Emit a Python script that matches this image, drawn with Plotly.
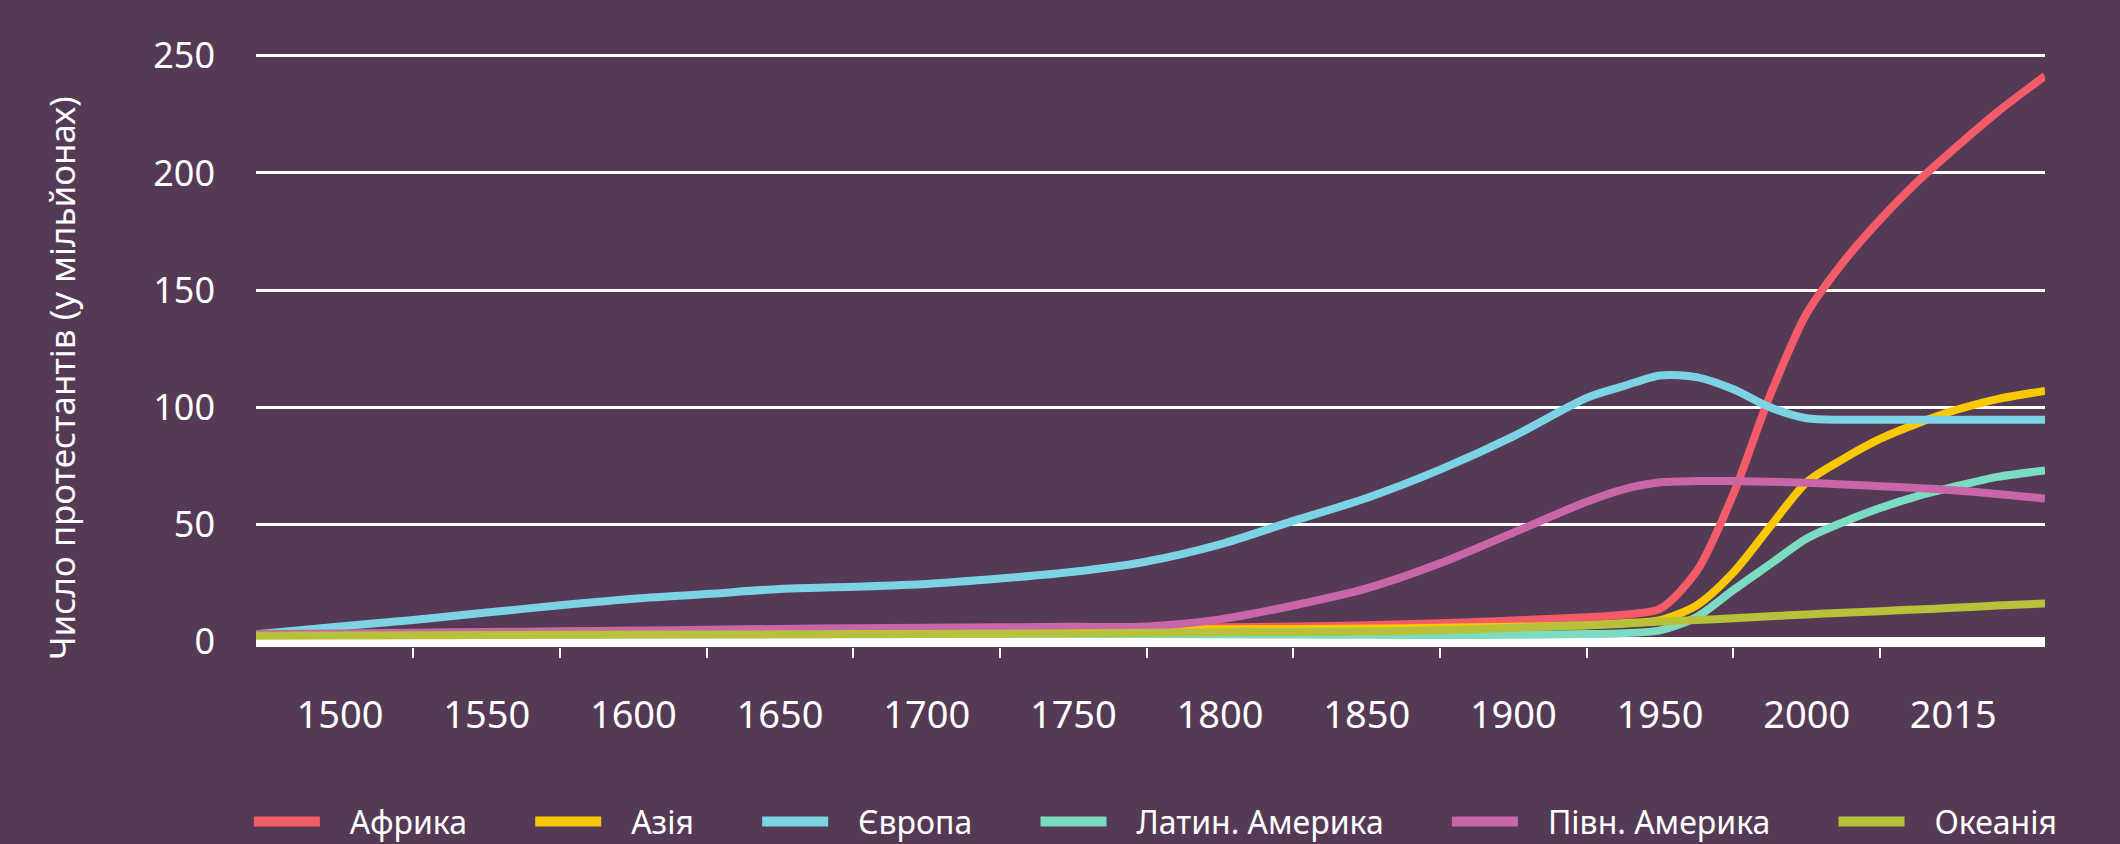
import plotly.graph_objects as go

# Tick labels (equally spaced categories on the x axis)
YEARS = ['1500', '1550', '1600', '1650', '1700', '1750', '1800',
         '1850', '1900', '1950', '2000', '2015']

# Sample positions along the x axis, in label-index units (0 = 1500, 11 = 2015)
X_POS = [-0.573, 0, 0.5, 1, 1.5, 2, 2.5, 3, 3.5, 4, 4.5, 5, 5.5, 6, 6.5, 7,
         7.5, 8, 8.5, 8.75, 9, 9.25, 9.5, 9.75, 10, 10.25, 10.5, 10.75, 11,
         11.3, 11.625]

# Protestants, millions
africa = [3.0, 3.2, 3.4, 3.6, 3.8, 4.0, 4.3, 4.6, 4.9, 5.1, 5.4, 5.7, 5.9,
          6.1, 6.4, 7.0, 7.8, 9.0, 10.4, 11.5, 14.0, 30.0, 63.0, 105.0,
          140.0, 162.0, 180.0, 196.0, 210.0, 226.0, 241.4]
asia = [2.9, 3.1, 3.3, 3.5, 3.7, 3.9, 4.2, 4.5, 4.7, 4.9, 5.0, 5.1, 5.2,
        5.3, 5.4, 5.6, 5.9, 6.3, 7.0, 7.8, 9.2, 15.5, 29.5, 49.0, 68.0,
        78.0, 86.5, 93.0, 98.5, 103.5, 107.0]
europe = [3.1, 6.5, 9.2, 12.4, 15.5, 18.3, 20.3, 22.5, 23.4, 24.6, 26.9,
          29.8, 34.2, 41.5, 51.5, 61.3, 73.4, 87.6, 104.0, 109.0, 113.6,
          112.9, 107.7, 100.0, 95.3, 94.7, 94.7, 94.7, 94.7, 94.7, 94.7]
latin_america = [2.8, 2.9, 2.9, 3.0, 3.0, 3.0, 3.1, 3.1, 3.1, 3.2, 3.2, 3.2,
                 3.2, 3.1, 3.0, 2.9, 2.8, 2.9, 3.2, 3.6, 4.8, 10.5, 22.0,
                 33.0, 44.0, 51.0, 57.0, 62.0, 66.0, 70.3, 73.0]
north_america = [3.3, 3.5, 3.8, 4.1, 4.4, 4.7, 5.1, 5.4, 5.7, 5.9, 6.1, 6.3,
                 6.5, 9.5, 15.4, 22.7, 33.4, 46.5, 59.7, 65.0, 68.0, 68.5,
                 68.5, 68.2, 67.8, 67.1, 66.3, 65.6, 64.6, 63.0, 61.1]
oceania = [2.5, 2.6, 2.7, 2.8, 2.9, 3.0, 3.0, 3.1, 3.2, 3.3, 3.4, 3.6, 3.8,
           4.0, 4.1, 4.3, 4.8, 5.9, 7.0, 7.6, 8.6, 9.2, 10.0, 10.8, 11.6,
           12.3, 13.0, 13.7, 14.4, 15.4, 16.3]

SERIES = [
    ('Африка', africa, '#f45b69'),
    ('Азія', asia, '#f8c800'),
    ('Європа', europe, '#7bd3e3'),
    ('Латин. Америка', latin_america, '#7cdcc2'),
    ('Півн. Америка', north_america, '#c966a9'),
    ('Океанія', oceania, '#b8c13a'),
]

Y_TICKS = [0, 50, 100, 150, 200, 250]

BG = '#543a55'
FONT = 'Noto Sans'
NBSP = '\u00a0'

fig = go.Figure()

for name, values, color in SERIES:
    fig.add_trace(go.Scatter(
        x=X_POS, y=values, mode='lines', name=name,
        line=dict(color=color, width=8, shape='spline', smoothing=0.8),
        showlegend=False, hoverinfo='skip',
    ))

# legend swatches (wide flat bars like the original)
for name, values, color in SERIES:
    fig.add_trace(go.Scatter(
        x=[None], y=[None], mode='lines',
        name=NBSP * 3 + name + NBSP * 7,
        line=dict(color=color, width=20),
    ))

fig.update_layout(
    width=2120, height=844,
    margin=dict(l=256, r=75, t=40, b=197, autoexpand=False),
    paper_bgcolor=BG, plot_bgcolor=BG,
    font=dict(family=FONT, color='white', size=36),
    xaxis=dict(
        range=[-0.573, 11.625],
        tickvals=list(range(len(YEARS))), ticktext=YEARS,
        showgrid=False, zeroline=False, ticks='',
        tickfont=dict(size=38, color='white'),
        ticklabelstandoff=42,
        minor=dict(
            tickvals=[k + 0.5 for k in range(len(YEARS) - 1)],
            ticks='outside', ticklen=10, tickwidth=2, tickcolor='white',
            showgrid=False,
        ),
    ),
    yaxis=dict(
        range=[-2.3, 256.74], tickvals=Y_TICKS,
        showgrid=True, gridcolor='white', gridwidth=3,
        zeroline=True, zerolinecolor='white', zerolinewidth=10,
        ticks='', tickfont=dict(size=36, color='white'),
        ticklabelstandoff=40,
    ),
    legend=dict(
        orientation='h', x=-0.004, xanchor='left', y=-0.288, yanchor='middle',
        font=dict(size=32, color='white'), itemwidth=66,
        bgcolor='rgba(0,0,0,0)',
    ),
    annotations=[dict(
        text='Число протестантів (у мільйонах)', textangle=-90,
        xref='paper', yref='paper', x=-0.109, y=0.443,
        xanchor='center', yanchor='middle', showarrow=False,
        font=dict(size=35, color='white'),
    )],
)

fig.write_html('out.html', config={'displayModeBar': False},
               post_script="document.body.style.margin='0';")
